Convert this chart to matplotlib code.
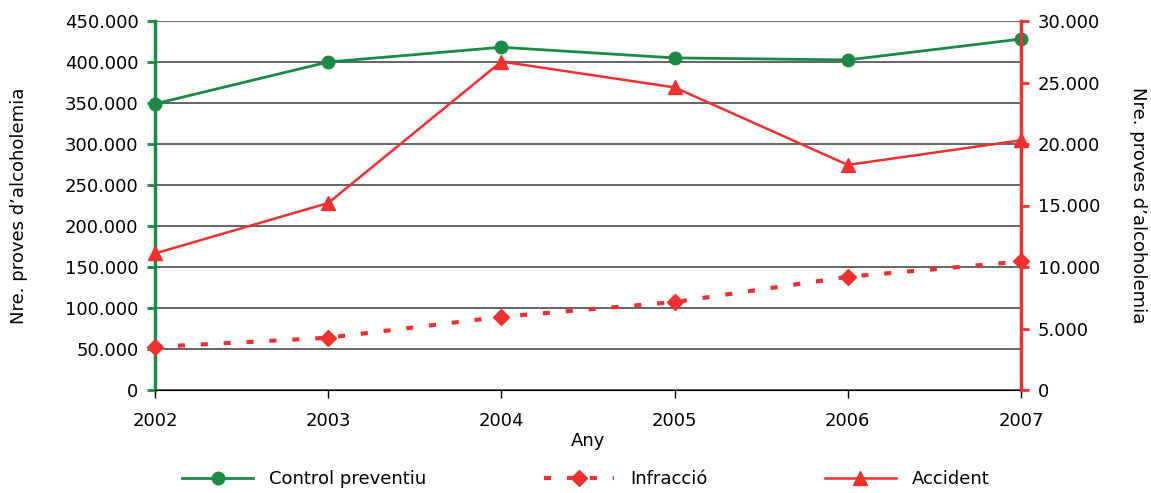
import matplotlib
matplotlib.use("Agg")
import matplotlib.pyplot as plt
from matplotlib.ticker import FuncFormatter

# data
years = [2002, 2003, 2004, 2005, 2006, 2007]
control = [349000, 400000, 418000, 405000, 402500, 428000]   # left axis
infraccio = [3500, 4250, 5950, 7150, 9200, 10450]            # right axis
accident = [11100, 15200, 26700, 24600, 18300, 20300]        # right axis

left_ticks = list(range(0, 450001, 50000))
right_ticks = list(range(0, 30001, 5000))

green = '#1b8a45'
red = '#ee3030'

plt.rcParams['font.family'] = ['DejaVu Sans']
plt.rcParams['font.size'] = 13

def dots(v, pos):
    return f'{int(v):,}'.replace(',', '.')

fig = plt.figure(figsize=(11.51, 4.93), dpi=100)
ax = fig.add_axes([155/1151, 1 - 390/493, (1021-155)/1151, (390-21)/493])
ax2 = ax.twinx()

# grid
for t in left_ticks:
    ax.axhline(t, color='#4a4a4a', lw=1.2, zorder=0)

ax.plot(years, control, color=green, lw=2, marker='o', ms=9, label='Control preventiu',
        clip_on=False, zorder=5)
l2, = ax2.plot(years, infraccio, color=red, lw=3, ls=(0, (1.7, 3.8)), marker='D', ms=8,
               label='Infracció', clip_on=False, zorder=5)
l3, = ax2.plot(years, accident, color=red, lw=1.8, marker='^', ms=10, label='Accident',
               clip_on=False, zorder=5)

ax.set_xlim(2002, 2007)
ax.set_ylim(0, 450000)
ax2.set_ylim(0, 30000)
ax.set_xticks(years)
ax.set_yticks(left_ticks)
ax2.set_yticks(right_ticks)
ax.yaxis.set_major_formatter(FuncFormatter(dots))
ax2.yaxis.set_major_formatter(FuncFormatter(dots))

for a in (ax, ax2):
    a.spines['top'].set_visible(False)
    a.spines['bottom'].set_color('black')
ax.spines['left'].set_color(green)
ax.spines['left'].set_linewidth(2.5)
ax.spines['right'].set_visible(False)
ax2.spines['left'].set_visible(False)
ax2.spines['right'].set_color(red)
ax2.spines['right'].set_linewidth(2.5)
ax2.spines['bottom'].set_visible(False)

ax.tick_params(axis='y', colors=green, labelcolor='black', length=6, width=2, pad=6)
ax2.tick_params(axis='y', colors=red, labelcolor='black', length=6, width=2, pad=6)
ax.tick_params(axis='x', length=6, width=1, pad=10)

ax.set_xlabel('Any', labelpad=1)
ax.set_ylabel('Nre. proves d\u2019alcoholemia', labelpad=26)
ax2.set_ylabel('Nre. proves d\u2019alcoholemia', rotation=270, labelpad=34)

h1, _ = ax.get_legend_handles_labels()
fig.legend(h1 + [l2, l3], ['Control preventiu', 'Infracció', 'Accident'],
           loc='center', bbox_to_anchor=(586/1151, 0.028), ncol=3, frameon=False,
           handlelength=3.9, columnspacing=6.5, handletextpad=0.9)

fig.savefig('out.png', dpi=100)
